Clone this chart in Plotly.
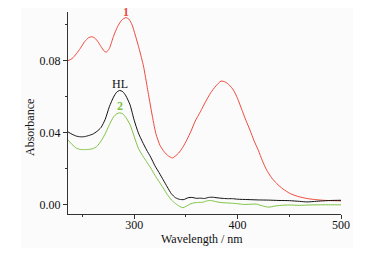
import plotly.graph_objects as go

# Wavelength (nm) and absorbance readings
wl_1 = [236, 240, 244, 248, 252, 256, 259, 262, 265, 268, 271, 273, 276, 280, 284, 288, 292, 295, 298, 301,
        305, 309, 313, 317, 321, 325, 329, 333, 337, 340, 343, 347, 351, 355, 359, 364, 369, 374, 379, 384,
        388, 392, 396, 400, 404, 408, 412, 416, 420, 424, 428, 433, 438, 444, 451, 458, 467, 475, 483, 491, 500]
abs_1 = [0.0800, 0.0812, 0.0838, 0.0869, 0.0905, 0.0928, 0.0933, 0.0925, 0.0905, 0.0878, 0.0853, 0.0847,
         0.0868, 0.0935, 0.0990, 0.1025, 0.1039, 0.1030, 0.0998, 0.0943, 0.0862, 0.0770, 0.0640, 0.0510,
         0.0395, 0.0330, 0.0295, 0.0272, 0.0261, 0.0272, 0.0288, 0.0320, 0.0362, 0.0410, 0.0465, 0.0517,
         0.0572, 0.0622, 0.0660, 0.0687, 0.0682, 0.0665, 0.0637, 0.0590, 0.0530, 0.0470, 0.0415, 0.0355,
         0.0304, 0.0245, 0.0195, 0.0150, 0.0118, 0.0088, 0.0063, 0.0048, 0.0036, 0.0030, 0.0026, 0.0024, 0.0023]

wl_hl = [236, 240, 244, 248, 252, 256, 260, 264, 268, 272, 276, 280, 283, 286, 289, 292, 296, 300, 304, 308,
         312, 316, 320, 324, 328, 332, 336, 340, 344, 348, 352, 356, 360, 364, 368, 372, 376, 380, 385, 390,
         395, 400, 410, 420, 430, 440, 450, 460, 467, 473, 480, 490, 500]
abs_hl = [0.0405, 0.0392, 0.0382, 0.0378, 0.0379, 0.0385, 0.0393, 0.0408, 0.0430, 0.0475, 0.0545, 0.0598,
          0.0625, 0.0635, 0.0628, 0.0605, 0.0555, 0.0470, 0.0400, 0.0350, 0.0305, 0.0265, 0.0218, 0.0180,
          0.0140, 0.0100, 0.0062, 0.0040, 0.0031, 0.0030, 0.0040, 0.0042, 0.0037, 0.0038, 0.0036, 0.0042,
          0.0043, 0.0040, 0.0037, 0.0035, 0.0035, 0.0032, 0.0030, 0.0028, 0.0027, 0.0025, 0.0024, 0.0020,
          0.0017, 0.0019, 0.0022, 0.0025, 0.0026]

wl_2 = [236, 240, 244, 248, 252, 256, 260, 264, 268, 272, 276, 280, 283, 286, 289, 292, 296, 300, 304, 308,
        312, 316, 320, 324, 328, 332, 336, 340, 344, 347, 350, 354, 358, 362, 366, 370, 374, 378, 382, 388,
        394, 400, 406, 412, 418, 424, 430, 436, 442, 450, 460, 470, 480, 490, 500]
abs_2 = [0.0360, 0.0335, 0.0315, 0.0308, 0.0307, 0.0308, 0.0312, 0.0325, 0.0355, 0.0395, 0.0445, 0.0488,
         0.0505, 0.0511, 0.0505, 0.0485, 0.0445, 0.0380, 0.0315, 0.0275, 0.0240, 0.0205, 0.0165, 0.0130,
         0.0095, 0.0058, 0.0028, 0.0008, -0.0008, -0.0015, -0.0008, 0.0005, 0.0012, 0.0014, 0.0015, 0.0022,
         0.0025, 0.0020, 0.0015, 0.0012, 0.0010, 0.0007, 0.0003, 0.0004, 0.0005, -0.0005, -0.0012, -0.0006,
         -0.0002, 0.0000, -0.0002, 0.0000, 0.0001, 0.0001, 0.0001]

x_ticks = [300, 400, 500]
y_ticks = [0.00, 0.04, 0.08]

FONT = "Liberation Serif, Times New Roman, serif"
RED = "#ef4a3c"
GREEN = "#7dc444"

# page pixel -> paper coords (plot area: x 68..341, y 12..214 on the page)
def px(x):
    return (x - 68) / 273

def py(y):
    return (214 - y) / 202

fig = go.Figure()
fig.add_trace(go.Scatter(x=wl_1, y=abs_1, mode="lines", line=dict(color=RED, width=1, shape="spline", smoothing=0.6)))
fig.add_trace(go.Scatter(x=wl_2, y=abs_2, mode="lines", line=dict(color=GREEN, width=1, shape="spline", smoothing=0.6)))
fig.add_trace(go.Scatter(x=wl_hl, y=abs_hl, mode="lines", line=dict(color="#111111", width=1, shape="spline", smoothing=0.6)))

ann = dict(showarrow=False, xanchor="center", yanchor="middle")

# body has an 8px default margin, so figure is shifted by 8px
fig.update_layout(
    width=379, height=245,
    margin=dict(l=60, r=46, t=4, b=39, autoexpand=False),
    paper_bgcolor="white", plot_bgcolor="rgba(0,0,0,0)",
    showlegend=False,
    font=dict(family=FONT, size=12, color="#111111"),
    shapes=[dict(type="rect", xref="paper", yref="paper", x0=px(21), x1=px(353), y0=py(248), y1=py(4),
                 fillcolor="#fbfbfb", line=dict(width=0), layer="below")],
    annotations=[
        dict(x=292, y=py(12), xref="x", yref="paper", text="<b>1</b>",
             font=dict(family=FONT, size=12, color=RED), **ann),
        dict(x=286, y=0.0672, xref="x", yref="y", text="HL",
             font=dict(family=FONT, size=12, color="#111111"), **ann),
        dict(x=286, y=0.0548, xref="x", yref="y", text="<b>2</b>",
             font=dict(family=FONT, size=12, color=GREEN), **ann),
        dict(x=px(30), y=py(128), xref="paper", yref="paper", text="Absorbance", textangle=-90,
             font=dict(family=FONT, size=12, color="#111111"), **ann),
        dict(x=px(202), y=py(239.5), xref="paper", yref="paper", text="Wavelength / nm",
             font=dict(family=FONT, size=12, color="#111111"), **ann),
    ],
)

fig.update_xaxes(range=[236, 500], tickvals=x_ticks, ticks="outside", ticklen=4, tickcolor="#333333",
                 showline=True, linecolor="#333333", linewidth=1, showgrid=False, zeroline=False,
                 tickfont=dict(family=FONT, size=12), ticklabelstandoff=-4,
                 minor=dict(tickvals=[250, 350, 450], ticks="outside", ticklen=2, tickcolor="#333333"))
fig.update_yaxes(range=[-0.005, 0.107], tickvals=y_ticks, tickformat=".2f", ticks="outside", ticklen=4,
                 tickcolor="#333333", showline=True, linecolor="#333333", linewidth=1, showgrid=False,
                 zeroline=False, tickfont=dict(family=FONT, size=12),
                 minor=dict(tickvals=[0.02, 0.06, 0.10], ticks="outside", ticklen=2, tickcolor="#333333"))

fig.write_html("out.html")
